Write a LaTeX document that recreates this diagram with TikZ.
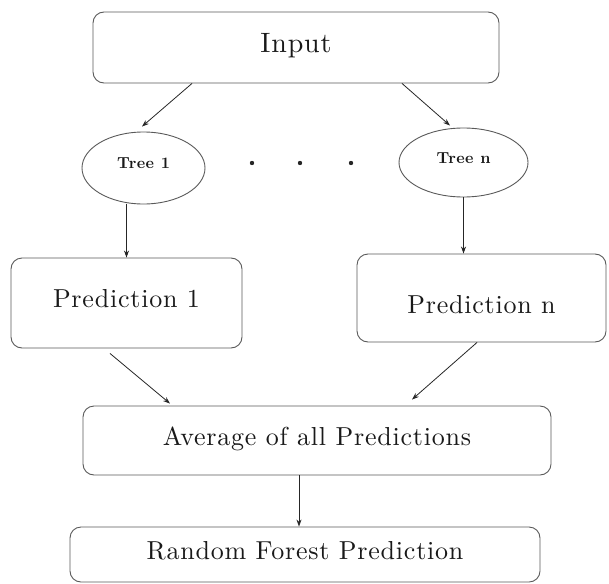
\documentclass[tikz,border=0pt]{standalone}
\usepackage{fontspec}
\setmainfont{lmroman10-regular.otf}[BoldFont=lmroman10-bold.otf,LetterSpace=3]
\usetikzlibrary{shapes.geometric,arrows.meta}
\begin{document}
\begin{tikzpicture}[x=1pt,y=-1pt,
  box/.style={draw=black!65,line width=0.9pt,rounded corners=11pt,inner sep=0pt,text=black!90},
  treenode/.style={draw=black!65,line width=0.9pt,ellipse,inner sep=0pt,text=black!90,font=\fontsize{16}{18}\selectfont\bfseries,text height=11pt,text depth=10pt},
  conn/.style={draw=black!85,line width=0.8pt,-{Stealth[length=7pt,width=5pt]}},
  mid/.style={font=\fontsize{26}{30}\selectfont,text height=18pt,text depth=9pt}
]
\useasboundingbox (0,0) rectangle (609,583);
\node[box,minimum width=406pt,minimum height=71pt,font=\fontsize{28}{32}\selectfont,text height=19pt,text depth=9pt] (input) at (296,47.5) {Input};
\node[treenode,minimum width=123pt,minimum height=72pt] (tree1) at (143.5,168) {Tree 1};
\node[treenode,minimum width=129pt,minimum height=69pt] (treen) at (463.5,162.5) {Tree n};
\fill[black!85] (252,163) circle (2.2pt) (300,163) circle (2.2pt) (351,163) circle (2.2pt);
\node[box,mid,minimum width=231pt,minimum height=90pt,text height=18pt,text depth=10pt] (pred1) at (126.5,303) {Prediction 1};
\node[box,mid,minimum width=249pt,minimum height=88pt,text height=30pt,text depth=0pt] (predn) at (481.5,298) {Prediction n};
\node[box,mid,minimum width=468pt,minimum height=69pt] (avg) at (317,440.5) {Average of all Predictions};
\node[box,mid,minimum width=470pt,minimum height=55pt] (rf) at (305,554.5) {Random Forest Prediction};
\draw[conn] ([xshift=-104pt]input.south) -- ([xshift=-1.5pt,yshift=5pt]tree1.north);
\draw[conn] ([xshift=106pt]input.south) -- ([xshift=-13.5pt,yshift=2pt]treen.north);
\draw[conn] (tree1.south -| pred1.north) -- (pred1.north);
\draw[conn] (treen.south) -- (treen.south |- predn.north);
\draw[conn] ([xshift=-16.5pt,yshift=-5pt]pred1.south) -- ([xshift=-147pt,yshift=2pt]avg.north);
\draw[conn] ([xshift=-4.5pt]predn.south) -- ([xshift=95pt,yshift=6pt]avg.north);
\draw[conn] ([xshift=-18pt]avg.south) -- ([xshift=-18pt]avg.south |- rf.north);
\end{tikzpicture}
\end{document}
